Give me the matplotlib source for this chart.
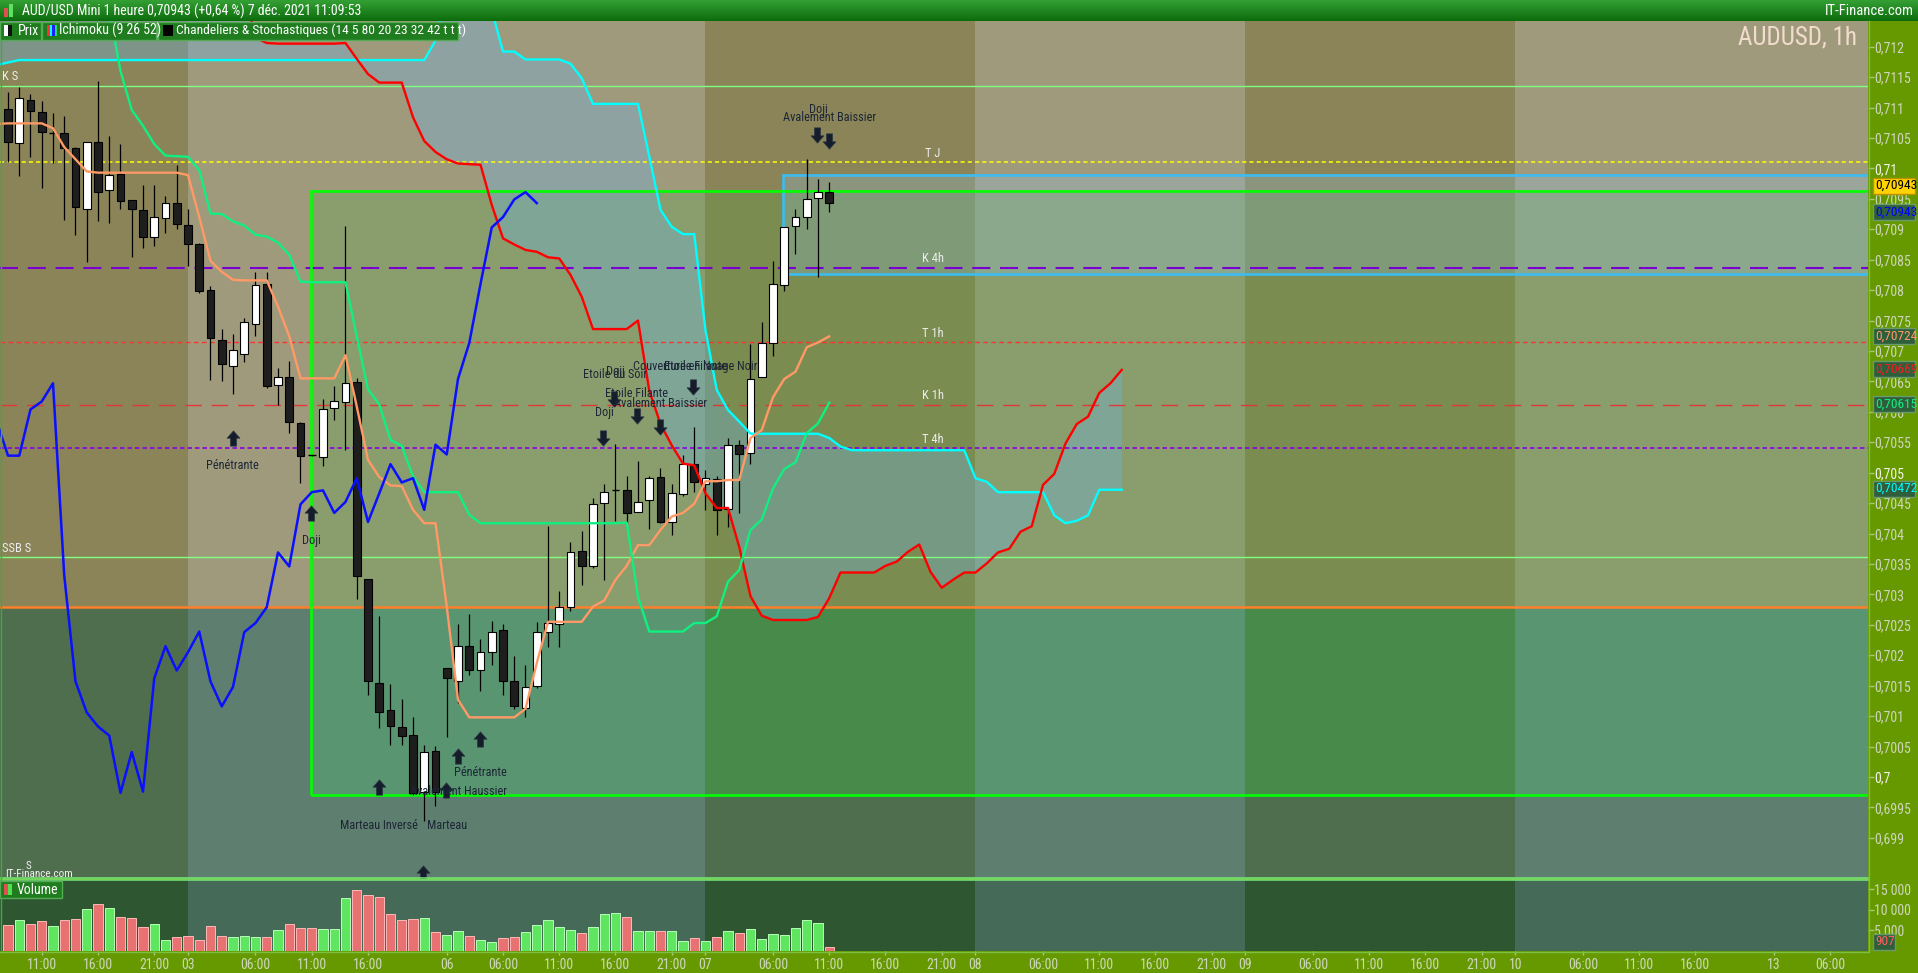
import numpy as np
import matplotlib
matplotlib.use("Agg")
import matplotlib.pyplot as plt
from matplotlib.patches import Rectangle
from matplotlib.path import Path
from matplotlib import font_manager as fm

plt.rcParams['lines.scale_dashes'] = False


def pick(cands):
    for c in cands:
        try:
            fm.findfont(fm.FontProperties(family=c), fallback_to_default=False)
            return c
        except Exception:
            continue
    return 'DejaVu Sans'


F_NARROW = pick(['Liberation Sans Narrow', 'Roboto Condensed', 'Liberation Sans'])
plt.rcParams['font.family'] = [F_NARROW, 'DejaVu Sans']

# ---------------------------------------------------------------- data
# hourly bars, bar 0 = 2 Dec 08:00
opens = [0.71097, 0.71041, 0.71112, 0.71092, 0.71058, 0.71058, 0.71034, 0.70933, 0.71043, 0.70965,
         0.70991, 0.70948, 0.70932, 0.70888, 0.70918, 0.70943, 0.70907, 0.70876, 0.70800, 0.70718,
         0.70675, 0.70695, 0.70745, 0.70810, 0.70644, 0.70657, 0.70582, 0.70529, 0.70526, 0.70606,
         0.70616, 0.70649, 0.70325, 0.70154, 0.70110, 0.70082, 0.70069, 0.69976, 0.70043, 0.70179,
         0.70158, 0.70215, 0.70175, 0.70205, 0.70242, 0.70158, 0.70114, 0.70149, 0.70238, 0.70251,
         0.70280, 0.70371, 0.70346, 0.70450, 0.70471, 0.70471, 0.70435, 0.70455, 0.70493, 0.70419,
         0.70465, 0.70514, 0.70482, 0.70489, 0.70440, 0.70546, 0.70532, 0.70657, 0.70713, 0.70808,
         0.70905, 0.70920, 0.70951, 0.70961]
highs = [0.71126, 0.71134, 0.71123, 0.71111, 0.71091, 0.71086, 0.71035, 0.71043, 0.71144, 0.71053,
         0.71040, 0.70948, 0.70973, 0.70973, 0.70954, 0.71005, 0.70933, 0.70877, 0.70806, 0.70736,
         0.70728, 0.70754, 0.70829, 0.70830, 0.70672, 0.70684, 0.70584, 0.70529, 0.70621, 0.70642,
         0.70905, 0.70655, 0.70325, 0.70265, 0.70153, 0.70128, 0.70099, 0.70053, 0.70051, 0.70179,
         0.70251, 0.70268, 0.70226, 0.70256, 0.70251, 0.70198, 0.70184, 0.70254, 0.70413, 0.70306,
         0.70386, 0.70404, 0.70459, 0.70482, 0.70547, 0.70495, 0.70519, 0.70495, 0.70508, 0.70482,
         0.70529, 0.70575, 0.70505, 0.70495, 0.70557, 0.70554, 0.70711, 0.70748, 0.70848, 0.70903,
         0.70933, 0.71015, 0.70982, 0.70978]
lows = [0.71011, 0.70988, 0.71019, 0.70967, 0.71009, 0.70916, 0.70890, 0.70846, 0.70913, 0.70911,
        0.70933, 0.70855, 0.70870, 0.70873, 0.70894, 0.70900, 0.70839, 0.70795, 0.70653, 0.70651,
        0.70629, 0.70682, 0.70724, 0.70639, 0.70611, 0.70565, 0.70483, 0.70528, 0.70511, 0.70586,
        0.70537, 0.70293, 0.70134, 0.70081, 0.70053, 0.70052, 0.69970, 0.69928, 0.69953, 0.70066,
        0.70121, 0.70168, 0.70142, 0.70184, 0.70135, 0.70112, 0.70099, 0.70146, 0.70214, 0.70214,
        0.70272, 0.70316, 0.70344, 0.70323, 0.70421, 0.70418, 0.70435, 0.70408, 0.70417, 0.70398,
        0.70462, 0.70468, 0.70439, 0.70398, 0.70411, 0.70433, 0.70514, 0.70657, 0.70692, 0.70798,
        0.70859, 0.70900, 0.70821, 0.70929]
closes = [0.71044, 0.71115, 0.71095, 0.71059, 0.71058, 0.71034, 0.70936, 0.71043, 0.70962, 0.70989,
          0.70947, 0.70934, 0.70888, 0.70920, 0.70943, 0.70908, 0.70876, 0.70799, 0.70722, 0.70678,
          0.70701, 0.70747, 0.70808, 0.70643, 0.70657, 0.70584, 0.70528, 0.70528, 0.70604, 0.70617,
          0.70647, 0.70331, 0.70157, 0.70106, 0.70083, 0.70068, 0.69974, 0.70041, 0.69976, 0.70162,
          0.70215, 0.70175, 0.70205, 0.70239, 0.70157, 0.70116, 0.70148, 0.70238, 0.70253, 0.70279,
          0.70369, 0.70346, 0.70448, 0.70468, 0.70471, 0.70434, 0.70452, 0.70491, 0.70419, 0.70466,
          0.70514, 0.70484, 0.70491, 0.70439, 0.70546, 0.70530, 0.70654, 0.70713, 0.70810, 0.70903,
          0.70920, 0.70949, 0.70961, 0.70943]
volumes = [6240, 7460, 6490, 7220, 6000, 7460, 7700, 10140, 11350, 10380,
           8190, 7950, 5760, 6490, 2600, 3320, 3570, 2600, 6000, 3570,
           3320, 3570, 3320, 3320, 5030, 6490, 5510, 5510, 5270, 5270,
           12810, 14760, 13540, 13060, 8920, 7460, 7700, 7950, 4540, 3810,
           4790, 3570, 2600, 2110, 3080, 3320, 4540, 6240, 7460, 5760,
           5030, 4300, 5760, 8920, 9160, 8190, 4790, 4790, 4790, 4790,
           2350, 3080, 2350, 3320, 4790, 4300, 5270, 2840, 4050, 3810,
           5510, 7460, 6730, 907]
volume_dir = "rgrrgrrgrg" "rrrggrrrrr" "gggrgrrrgg" "grrrrrrgrg" "grggrrgggg" "grgggrggrg" "grgrgrgggg" "gggr"

# Ichimoku lines, first value at bar -1
tenkan = [0.71073,
          0.71074, 0.71074, 0.71074, 0.71074, 0.71066, 0.71035, 0.71015, 0.70995, 0.70993, 0.70993,
          0.70993, 0.70993, 0.70993, 0.70993, 0.70993, 0.70993, 0.70989, 0.70920, 0.70848, 0.70830,
          0.70817, 0.70816, 0.70816, 0.70816, 0.70773, 0.70724, 0.70655, 0.70655, 0.70655, 0.70655,
          0.70693, 0.70609, 0.70521, 0.70493, 0.70479, 0.70478, 0.70439, 0.70417, 0.70417, 0.70280,
          0.70127, 0.70098, 0.70098, 0.70098, 0.70098, 0.70098, 0.70112, 0.70187, 0.70255, 0.70255,
          0.70255, 0.70255, 0.70280, 0.70290, 0.70324, 0.70347, 0.70381, 0.70381, 0.70406, 0.70428,
          0.70434, 0.70449, 0.70486, 0.70486, 0.70488, 0.70488, 0.70557, 0.70570, 0.70624, 0.70654,
          0.70666, 0.70706, 0.70714, 0.70724]
kijun = [0.71350, 0.71350, 0.71350, 0.71350, 0.71350, 0.71350, 0.71350, 0.71350, 0.71350, 0.71350,
         0.71260, 0.71160, 0.71096, 0.71070, 0.71040, 0.71021, 0.71020, 0.71019, 0.70997, 0.70926,
         0.70925, 0.70913, 0.70906, 0.70891, 0.70888, 0.70878, 0.70858, 0.70814, 0.70813, 0.70813,
         0.70813, 0.70813, 0.70724, 0.70637, 0.70612, 0.70554, 0.70544, 0.70494, 0.70468, 0.70468,
         0.70468, 0.70468, 0.70431,
         0.70417, 0.70417, 0.70417, 0.70417, 0.70417, 0.70417, 0.70417, 0.70417, 0.70417, 0.70417,
         0.70417, 0.70417, 0.70417,
         0.70418, 0.70296, 0.70239, 0.70239, 0.70239, 0.70239, 0.70253, 0.70253, 0.70264, 0.70321,
         0.70340, 0.70406, 0.70423, 0.70474, 0.70506, 0.70517, 0.70565, 0.70581, 0.70615]
senkou_a = [0.71170, 0.71174,
            0.71178, 0.71178, 0.71178, 0.71178, 0.71178, 0.71178, 0.71178, 0.71178, 0.71178, 0.71178,
            0.71178, 0.71178, 0.71178, 0.71178, 0.71178, 0.71178, 0.71178, 0.71178, 0.71178, 0.71178,
            0.71178, 0.71178, 0.71178, 0.71178, 0.71178, 0.71178, 0.71178, 0.71178, 0.71178, 0.71178,
            0.71178, 0.71178, 0.71178, 0.71178, 0.71178, 0.71178, 0.71178,
            0.71210, 0.71290, 0.71290, 0.71290, 0.71290, 0.71260,
            0.71192, 0.71192, 0.71179, 0.71179, 0.71179, 0.71179, 0.71172, 0.71148,
            0.71106, 0.71106, 0.71106, 0.71106, 0.71106, 0.71020, 0.70932, 0.70904, 0.70892, 0.70892,
            0.70734, 0.70636, 0.70603, 0.70584,
            0.70564, 0.70564, 0.70564, 0.70564, 0.70564, 0.70564, 0.70564, 0.70557, 0.70543,
            0.70537, 0.70537, 0.70537, 0.70537, 0.70537, 0.70537, 0.70537, 0.70537, 0.70537, 0.70537, 0.70537,
            0.70491, 0.70485, 0.70468, 0.70468, 0.70468, 0.70468, 0.70468,
            0.70430, 0.70417, 0.70421, 0.70430, 0.70472, 0.70472, 0.70472]
senkou_b = [0.71290, 0.71290, 0.71290, 0.71290, 0.71290, 0.71290, 0.71290, 0.71290, 0.71290, 0.71290,
            0.71290, 0.71290, 0.71290, 0.71290, 0.71290, 0.71290, 0.71290, 0.71290, 0.71290, 0.71290,
            0.71290, 0.71290, 0.71290,
            0.71215, 0.71206,
            0.71205, 0.71205, 0.71205, 0.71205, 0.71205, 0.71205,
            0.71206, 0.71180, 0.71155, 0.71141, 0.71141, 0.71141,
            0.71084, 0.71045, 0.71027, 0.71015, 0.71008, 0.71007, 0.71006,
            0.70940, 0.70885, 0.70875, 0.70866, 0.70863, 0.70854, 0.70852, 0.70825, 0.70789,
            0.70736, 0.70736, 0.70736, 0.70736, 0.70750,
            0.70635, 0.70580, 0.70545, 0.70515, 0.70512, 0.70466, 0.70442, 0.70442, 0.70378, 0.70297, 0.70265,
            0.70258, 0.70258, 0.70258, 0.70258, 0.70263, 0.70294,
            0.70336, 0.70336, 0.70336, 0.70336, 0.70347, 0.70354, 0.70370, 0.70382, 0.70337, 0.70311,
            0.70324, 0.70336, 0.70336,
            0.70351, 0.70369, 0.70375, 0.70403, 0.70412, 0.70480, 0.70498, 0.70548, 0.70580, 0.70592,
            0.70631, 0.70647, 0.70669]
CHIKOU_SHIFT = 26

# horizontal levels
level_names = ['K S', 'T J', 'K 4h', 'T 1h', 'K 1h', 'T 4h', 'SSB S']
level_values = [0.71135, 0.71010, 0.70836, 0.70714, 0.70611, 0.70540, 0.70361]
orange_level = 0.70280
green_zone = (26.9, 0.69971, 0.70963)    # left bar, bottom, top
cyan_zone = (68.93, 0.70827, 0.70989)

# day boundaries (bar index) and time-axis labels
day_starts = [16, 62, 86, 110, 134]
tick_bars = [3, 8, 13, 16, 22, 27, 32, 39, 44, 49, 54, 59, 62, 68, 73, 78, 83, 86, 92, 97, 102, 107,
             110, 116, 121, 126, 131, 134, 140, 145, 150, 157, 162]
tick_text = ['11:00', '16:00', '21:00', '03', '06:00', '11:00', '16:00', '06', '06:00', '11:00', '16:00',
             '21:00', '07', '06:00', '11:00', '16:00', '21:00', '08', '06:00', '11:00', '16:00', '21:00',
             '09', '06:00', '11:00', '16:00', '21:00', '10', '06:00', '11:00', '16:00', '13', '06:00']

# candle pattern signals: (bar, price, direction)
signal_bars = [19.97, 26.9, 32.98, 38.93, 39.97, 41.93, 36.9, 52.9, 53.9, 55.9, 57.96, 60.9, 71.9, 73.0]
signal_prices = [0.705562, 0.70433, 0.69983, 0.69978, 0.70034, 0.70062, 0.69842,
                 0.705578, 0.706219, 0.705924, 0.705759, 0.70640, 0.710557, 0.710458]
signal_dirs = ['up', 'up', 'up', 'up', 'up', 'up', 'up',
               'down', 'down', 'down', 'down', 'down', 'down', 'down']
signal_texts = ['Pénétrante', 'Doji', 'Marteau Inversé', 'Marteau', 'Avalement Haussier', 'Pénétrante',
                'Doji', 'Etoile du Soir', 'Doji', 'Etoile Filante', 'Avalement Baissier',
                'Couverture en Nuage Noir', 'Etoile Filante', 'Doji', 'Avalement Baissier']
signal_text_bars = [19.97, 26.93, 32.98, 39.0, 40.03, 41.96, 53.0, 54.0, 54.0, 55.9, 58.0, 61.07, 61.07,
                    72.0, 73.02]
signal_text_prices = [0.705115, 0.70389, 0.699195, 0.699195, 0.699758, 0.700071, 0.705986, 0.70661,
                      0.70666, 0.706305, 0.70614, 0.706742, 0.706742, 0.71096, 0.71084]

# ---------------------------------------------------------------- layout
W, H = 1918, 973
PX = 11.25          # pixels per bar
fig = plt.figure(figsize=(W / 100, H / 100), dpi=100)
fig.patch.set_facecolor('#669900')

ax = fig.add_axes([0, 1 - 878 / H, 1868 / W, (878 - 21) / H])
axv = fig.add_axes([0, 1 - 951 / H, 1868 / W, (951 - 880) / H])
XL = (-8 / PX, 1860 / PX)
YL = (0.7 - 101 / 60860, 0.7 + 756 / 60860)
VL = (0, 17200)
for a in (ax, axv):
    a.set_xlim(*XL)
    for s in a.spines.values():
        s.set_visible(False)
ax.set_ylim(*YL)
axv.set_ylim(*VL)

# ---------------- backgrounds
TAN = {'d': '#8a8458', 'l': '#a09a7d'}
GOUT = {'d': '#4f6e4e', 'l': '#5e7f6f'}
RUP = {'d': '#7b8c50', 'l': '#8a9e6d'}
RDN = {'d': '#478a49', 'l': '#5a9571'}
VOLBG = {'d': '#2d5631', 'l': '#456b58'}
edges = [XL[0] - 2] + day_starts + [XL[1] + 2]
shades = ['d', 'l', 'd', 'l', 'd', 'l']
gl, gb, gt = green_zone
for k in range(len(edges) - 1):
    x0, x1, s = edges[k], edges[k + 1], shades[k]
    ax.add_patch(Rectangle((x0, YL[0]), x1 - x0, YL[1] - YL[0], fc=TAN[s], ec='none', zorder=0))
    ax.add_patch(Rectangle((x0, YL[0]), x1 - x0, orange_level - YL[0], fc=GOUT[s], ec='none', zorder=0.1))
    rx0 = max(x0, gl)
    if rx0 < x1:
        ax.add_patch(Rectangle((rx0, orange_level), x1 - rx0, gt - orange_level, fc=RUP[s], ec='none', zorder=0.2))
        ax.add_patch(Rectangle((rx0, gb), x1 - rx0, orange_level - gb, fc=RDN[s], ec='none', zorder=0.2))
    axv.add_patch(Rectangle((x0, 0), x1 - x0, VL[1], fc=VOLBG[s], ec='none', zorder=0))

# ---------------- cloud
xs_cloud = np.arange(-1, -1 + len(senkou_a))
ax.fill_between(xs_cloud, senkou_a, senkou_b, color='#6cb4e8', alpha=0.34, lw=0, zorder=1)

# ---------------- zones
cl, cb, ct = cyan_zone
ax.add_patch(Rectangle((cl, cb), 200, ct - cb, fc='#90d0ff', ec='none', alpha=0.22, zorder=1.2))
ax.add_patch(Rectangle((cl, cb), 200, ct - cb, fill=False, ec='#3cbcf2', lw=1.9, zorder=2.6))
ax.add_patch(Rectangle((gl, gb), 200, gt - gb, fill=False, ec='#00ff00', lw=1.9, zorder=2.6))

# ---------------- levels
level_styles = {
    'K S': dict(color='#80ff80', lw=1.0, ls='-'),
    'T J': dict(color='#ffff00', lw=1.1, ls=(0, (3, 2.2))),
    'K 4h': dict(color='#7a00d0', lw=1.5, ls=(0, (13, 7))),
    'T 1h': dict(color='#ff3030', lw=1.0, ls=(0, (3.4, 2.4))),
    'K 1h': dict(color='#e03838', lw=1.0, ls=(0, (12, 7))),
    'T 4h': dict(color='#8a00e0', lw=1.2, ls=(0, (3.2, 2.2))),
    'SSB S': dict(color='#80ff80', lw=1.0, ls='-'),
}
for name, val in zip(level_names, level_values):
    ax.axhline(val, zorder=2.4, **level_styles[name])
    if name in ('K S', 'SSB S'):
        ax.annotate(name, xy=(XL[0] + 2 / PX, val), xytext=(0, 2), textcoords='offset points',
                    ha='left', va='bottom', color='#ececec', fontsize=9, zorder=7)
    else:
        ax.annotate(name, xy=(82.2, val), xytext=(0, 2), textcoords='offset points',
                    ha='center', va='bottom', color='#ececec', fontsize=9, zorder=7)
ax.axhline(orange_level, color='#ff7f2a', lw=1.8, zorder=2.5)

# ---------------- candles
idx = np.arange(len(opens))
ax.vlines(idx, lows, highs, color='black', lw=0.9, zorder=3)
for i, (o, c) in enumerate(zip(opens, closes)):
    lo, hi = min(o, c), max(o, c)
    if hi - lo < 0.00002:
        ax.hlines((o + c) / 2, i - 0.34, i + 0.34, color='black', lw=1.0, zorder=3.2)
        continue
    fc = '#ffffff' if c > o else '#1e1e1e'
    ax.add_patch(Rectangle((i - 0.34, lo), 0.68, hi - lo, fc=fc, ec='black', lw=0.8, zorder=3.1))

# ---------------- ichimoku lines
ax.plot(xs_cloud, senkou_a, color='#00ffff', lw=1.7, zorder=4, solid_joinstyle='round')
ax.plot(xs_cloud, senkou_b, color='#ff0000', lw=1.7, zorder=4, solid_joinstyle='round')
ax.plot(np.arange(-1, -1 + len(tenkan)), tenkan, color='#ff9966', lw=1.7, zorder=4.1)
ax.plot(np.arange(-1, -1 + len(kijun)), kijun, color='#10f080', lw=1.7, zorder=4.1)
chikou = closes[CHIKOU_SHIFT - 1:]
ax.plot(np.arange(-1, -1 + len(chikou)), chikou, color='#0a10ff', lw=1.8, zorder=4.2)

# ---------------- signals
up_path = Path([(-0.42, 0.02), (0, 0.5), (0.42, 0.02), (0.2, 0.02), (0.2, -0.5), (-0.2, -0.5),
                (-0.2, 0.02), (-0.42, 0.02)], closed=True)
down_path = Path([(x, -y) for x, y in up_path.vertices], closed=True)
for b, p, d in zip(signal_bars, signal_prices, signal_dirs):
    ax.plot([b], [p], marker=up_path if d == 'up' else down_path, ms=11, color='#151d2b',
            mec='#2c3646', mew=0.5, zorder=6, ls='none')
for b, p, t in zip(signal_text_bars, signal_text_prices, signal_texts):
    ax.text(b, p, t, ha='center', va='center', fontsize=8.8, color='#1c2636', zorder=6.5)

# ---------------- volume
vcol = ['#5fe55f' if d == 'g' else '#e87272' for d in volume_dir]
vedge = ['#b8ffb8' if d == 'g' else '#ffb8b8' for d in volume_dir]
axv.bar(idx, volumes, width=0.84, color=vcol, edgecolor=vedge, lw=0.7, zorder=2)

# ---------------- axes ticks
ptick = [round(0.699 + 0.0005 * k, 4) for k in range(27)]


def pfmt(v):
    return ('%.4f' % v).rstrip('0').rstrip('.').replace('.', ',')


ax.yaxis.tick_right()
ax.set_yticks(ptick, labels=[pfmt(v) for v in ptick])
ax.tick_params(axis='y', colors='#a8c878', labelcolor='#cdd6bc', labelsize=10, length=4, width=1, pad=0.5)
for t, v in zip(ax.get_yticklabels(), ptick):
    if abs(v * 200 - round(v * 200)) < 1e-6:
        t.set_color('#f2f2e6')
ax.tick_params(axis='x', bottom=False, labelbottom=False)

axv.yaxis.tick_right()
vt = [5000, 10000, 15000]
axv.set_yticks(vt, labels=[('%d' % v)[:-3] + ' 000' for v in vt])
axv.tick_params(axis='y', colors='#a8c878', labelcolor='#cdd6bc', labelsize=10, length=4, width=1, pad=0.5)
axv.set_xticks(tick_bars, labels=tick_text)
axv.tick_params(axis='x', colors='#a8c878', labelcolor='#cdd6bc', labelsize=10, length=3, width=1, pad=2)

# panel separators and borders
for ypx in (878.3, 880.2):
    fig.add_artist(plt.Line2D([0, 1868 / W], [1 - ypx / H] * 2, color='#78e878', lw=1.1, zorder=5))
fig.add_artist(plt.Line2D([1868.5 / W] * 2, [1 - 951 / H, 1 - 21 / H], color='#7fc040', lw=1, zorder=5))
fig.add_artist(plt.Line2D([0, 1868.5 / W], [1 - 951.5 / H] * 2, color='#7fc040', lw=1, zorder=5))
fig.add_artist(plt.Line2D([0.5 / W] * 2, [1 - 951 / H, 1 - 21 / H], color='#3faa3f', lw=1, zorder=5))

# ---------------- header
hax = fig.add_axes([0, 1 - 21 / H, 1, 21 / H])
grad = np.linspace(0, 1, 50).reshape(-1, 1)
top_c, bot_c = np.array([0x34, 0xa0, 0x34]) / 255, np.array([0x0c, 0x6c, 0x0c]) / 255
hax.imshow(top_c + (bot_c - top_c) * grad[:, :, None], aspect='auto', extent=(0, 1, 0, 1))
hax.set_axis_off()
fig.add_artist(Rectangle((4 / W, 1 - 17 / H), 4 / W, 9 / H, transform=fig.transFigure, fc='#e05050', ec='none', zorder=6))
fig.add_artist(Rectangle((9 / W, 1 - 17 / H), 4 / W, 13 / H, transform=fig.transFigure, fc='#60e060', ec='none', zorder=6))
fig.text(22 / W, 1 - 11 / H, 'AUD/USD Mini 1 heure 0,70943 (+0,64 %) 7 déc. 2021 11:09:53', color='white',
         fontsize=10, va='center', ha='left', zorder=7)
fig.text(1914 / W, 1 - 11 / H, 'IT-Finance.com', color='white', fontsize=10.5, va='center', ha='right', zorder=7)

# legend boxes
def legend_box(x0, x1, y0, y1, text, tx, fs=10):
    fig.add_artist(Rectangle((x0 / W, 1 - y1 / H), (x1 - x0) / W, (y1 - y0) / H, transform=fig.transFigure,
                             fc='#1f7c1f', ec='#55aa55', lw=1, zorder=6))
    fig.text(tx / W, 1 - (y0 + y1) / 2 / H, text, color='white', fontsize=fs, va='center', ha='left', zorder=7)


legend_box(0, 41, 22, 39.5, 'Prix', 18)
legend_box(42, 156, 22, 39.5, 'Ichimoku (9 26 52)', 59)
legend_box(158, 458, 22, 39.5, 'Chandeliers & Stochastiques (14 5 80 20 23 32 42 t t t)', 176, fs=9.7)
icons = [(4, '#ffffff', 4), (8, '#111111', 4), (47, '#ff3030', 2.5), (49.5, '#00ffff', 2.5), (52, '#2020ff', 2.5),
         (54.5, '#20e060', 2.5), (163, '#000000', 10)]
for x0, col, w in icons:
    fig.add_artist(Rectangle((x0 / W, 1 - 36 / H), w / W, 11 / H, transform=fig.transFigure, fc=col, ec='none', zorder=7))

legend_box(0, 62, 880.7, 898.3, 'Volume', 17)
fig.add_artist(Rectangle((4 / W, 1 - 895 / H), 4 / W, 11 / H, transform=fig.transFigure, fc='#e05050', ec='none', zorder=7))
fig.add_artist(Rectangle((8 / W, 1 - 895 / H), 4 / W, 11 / H, transform=fig.transFigure, fc='#50e050', ec='none', zorder=7))

fig.text(1857 / W, 1 - 37 / H, 'AUDUSD, 1h', color='#f2dccd', fontsize=18, ha='right', va='center', zorder=7)
fig.text(5 / W, 1 - 874 / H, 'IT-Finance.com', color='#f0f0f0', fontsize=8, ha='left', va='center', zorder=7)
fig.text(26 / W, 1 - 866 / H, 'S', color='#f0f0f0', fontsize=8, ha='left', va='center', zorder=7)

# ---------------- right-axis value tags
def tag(ypx, text, fc, ec, tc, width=42):
    fig.add_artist(Rectangle((1873 / W, 1 - (ypx + 8) / H), width / W, 16 / H, transform=fig.transFigure,
                             fc=fc, ec=ec, lw=1, zorder=8))
    fig.text(1875 / W, 1 - ypx / H, text, color=tc, fontsize=9.6, va='center', ha='left', zorder=9)


def vfmt(v):
    return ('%.5f' % v).replace('.', ',')


tag(185.7, vfmt(closes[-1]), '#ffd200', '#b89000', '#000000')
tag(212, vfmt(closes[-1]), '#2f5e3c', '#6a9a6a', '#0000ff')
tag(336, vfmt(tenkan[-1]), '#2f5e3c', '#6a9a6a', '#ff9966')
tag(369, vfmt(senkou_b[-1]), '#2f5e3c', '#6a9a6a', '#ff1a1a')
tag(404, vfmt(kijun[-1]), '#2f5e3c', '#6a9a6a', '#10f080')
tag(488.7, vfmt(senkou_a[-1]), '#2f5e3c', '#6a9a6a', '#00ffff')
tag(941.7, '%d' % volumes[-1], '#2f5e3c', '#6a9a6a', '#ff6060', width=22)

fig.savefig('out.png', dpi=100, facecolor=fig.get_facecolor())
